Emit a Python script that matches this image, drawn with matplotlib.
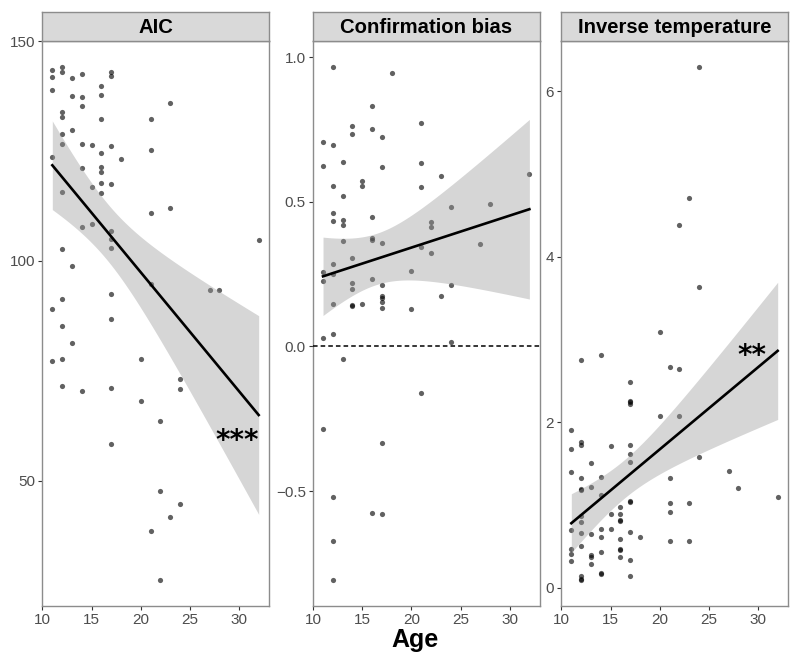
import numpy as np
import matplotlib
matplotlib.use("Agg")
import matplotlib.pyplot as plt

plt.rcParams['font.family'] = ['Liberation Sans', 'DejaVu Sans']

# AIC panel
aic_age = [11, 11, 11, 12, 12, 13, 14, 16, 17, 17,
           13, 14, 16, 23, 12, 12, 14, 16, 21, 13,
           12, 12, 14, 15, 16, 17, 21, 11, 18, 14,
           16, 16, 16, 17, 15, 12, 16, 21, 23, 14,
           15, 17, 17, 17, 32, 12, 13, 21, 27, 28,
           17, 12, 11, 17,
           12, 13, 11, 12, 20, 24, 24, 12, 14, 17,
           20, 22, 17, 22, 24, 23, 21, 22]
aic_val = [143.5, 141.8, 138.8, 144.2, 143.0, 141.7, 142.6, 139.9, 143.0, 142.0,
           137.6, 137.2, 137.7, 136.0, 133.9, 132.8, 135.2, 132.3, 132.2, 129.9,
           128.8, 126.7, 126.7, 126.3, 124.6, 126.1, 125.2, 123.6, 123.3, 121.1,
           121.4, 120.2, 117.8, 117.6, 116.9, 115.7, 115.5, 110.9, 112.0, 107.7,
           108.4, 106.8, 104.9, 102.9, 104.8, 102.7, 98.9, 94.8, 93.4, 93.3,
           92.4, 91.3, 89.0, 86.7,
           85.2, 81.2, 77.3, 77.7, 77.7, 73.1, 70.8, 71.6, 70.4, 71.1,
           68.0, 63.6, 58.4, 47.7, 44.6, 41.7, 38.6, 27.3]

# Confirmation bias panel
cb_age = [12, 18, 16, 21, 14, 14, 16, 17, 11, 12,
          13, 11, 17, 21, 23, 32, 12, 15, 15, 21,
          13, 16, 12, 12, 13, 13, 22, 22, 24, 28,
          13, 16, 16, 17, 27, 21, 22, 14, 12, 12,
          11, 11, 20, 16, 14, 14, 17, 24, 17, 17,
          17, 23, 12, 14, 14, 15, 17, 20,
          11, 12, 24, 13, 21, 11, 17, 12, 16, 17, 12, 12]
cb_val = [0.968, 0.947, 0.832, 0.774, 0.764, 0.736, 0.753, 0.724, 0.707, 0.698,
          0.638, 0.624, 0.621, 0.636, 0.590, 0.598, 0.554, 0.571, 0.556, 0.551,
          0.522, 0.448, 0.463, 0.434, 0.438, 0.422, 0.429, 0.415, 0.483, 0.494,
          0.366, 0.374, 0.370, 0.357, 0.356, 0.345, 0.325, 0.305, 0.285, 0.250,
          0.257, 0.226, 0.262, 0.234, 0.220, 0.198, 0.213, 0.211, 0.175, 0.167,
          0.155, 0.174, 0.147, 0.144, 0.139, 0.146, 0.132, 0.129,
          0.030, 0.043, 0.016, -0.043, -0.160, -0.286, -0.333, -0.522, -0.576, -0.580, -0.674, -0.809]

# Inverse temperature panel
it_age = [24, 23, 22, 24,
          20, 14, 12, 21, 22, 17, 17, 17, 17, 20,
          22, 11, 11, 12, 12, 15, 17, 17, 17, 13,
          24, 11, 12, 14, 21, 27, 12, 12, 13, 28,
          14, 32, 17, 17, 21, 23, 16, 21, 16, 15,
          12, 16, 16, 12, 11, 15, 14, 17, 12, 13,
          14, 18, 16, 21, 23, 12, 11, 16, 16, 14,
          11, 13, 13, 16, 17, 11, 13, 14, 14, 12,
          17, 12, 12]
it_val = [6.30, 4.71, 4.38, 3.64,
          3.09, 2.81, 2.75, 2.67, 2.65, 2.49, 2.26, 2.24, 2.22, 2.08,
          2.08, 1.91, 1.68, 1.76, 1.73, 1.71, 1.73, 1.62, 1.52, 1.51,
          1.58, 1.40, 1.33, 1.34, 1.33, 1.41, 1.20, 1.18, 1.22, 1.21,
          1.12, 1.10, 1.05, 1.04, 1.02, 1.02, 0.98, 0.92, 0.89, 0.89,
          0.87, 0.82, 0.81, 0.80, 0.70, 0.71, 0.71, 0.68, 0.66, 0.65,
          0.61, 0.61, 0.59, 0.56, 0.57, 0.51, 0.47, 0.47, 0.46, 0.43,
          0.41, 0.40, 0.37, 0.37, 0.34, 0.32, 0.29, 0.18, 0.17, 0.14,
          0.14, 0.10, 0.09]

titles = ["AIC", "Confirmation bias", "Inverse temperature"]
yticks = [[50, 100, 150], [-0.5, 0.0, 0.5, 1.0], [0, 2, 4, 6]]
yticklabels = [["50", "100", "150"], ["\u22120.5", "0.0", "0.5", "1.0"], ["0", "2", "4", "6"]]
stars = ["***", None, "**"]
star_pos = [(29.85, 57.3), None, (29.4, 2.71)]


def lm_band(x, y, xs, t=1.99):
    x = np.asarray(x, float)
    y = np.asarray(y, float)
    b, a = np.polyfit(x, y, 1)
    n = len(x)
    resid = y - (a + b * x)
    s = np.sqrt(np.sum(resid ** 2) / (n - 2))
    se = s * np.sqrt(1 / n + (xs - x.mean()) ** 2 / np.sum((x - x.mean()) ** 2))
    fit = a + b * xs
    return fit, fit - t * se, fit + t * se


W, H = 800, 665
fig = plt.figure(figsize=(8, 6.65), dpi=100)
lefts = [42, 312.7, 561]
pw = 227
top, bottom = 41, 606
strip_top = 12
border = "#8c8c8c"

data = [(aic_age, aic_val), (cb_age, cb_val), (it_age, it_val)]
for i, (x, y) in enumerate(data):
    ax = fig.add_axes([lefts[i] / W, (H - bottom) / H, pw / W, (bottom - top) / H])
    ax.scatter(x, y, s=14, color="black", alpha=0.62, linewidths=0, zorder=2)
    xs = np.linspace(min(x), max(x), 100)
    fit, lo, hi = lm_band(x, y, xs)
    ax.fill_between(xs, lo, hi, color="#999999", alpha=0.4, linewidth=0, zorder=3)
    ax.plot(xs, fit, color="black", lw=1.9, zorder=4)
    if i == 1:
        ax.axhline(0, color="black", lw=1.1, ls=(0, (3, 2)), zorder=4)
    if stars[i]:
        ax.text(star_pos[i][0], star_pos[i][1], stars[i], ha="center", va="baseline",
                fontsize=20, fontweight="bold", family="DejaVu Sans", zorder=5)
    rng = max(y) - min(y)
    ax.set_ylim(min(y) - 0.05 * rng, max(y) + 0.05 * rng)
    ax.set_xlim(9.95, 33.05)
    ax.set_xticks([10, 15, 20, 25, 30])
    ax.set_yticks(yticks[i])
    ax.set_yticklabels(yticklabels[i])
    ax.tick_params(labelsize=11, labelcolor="#4d4d4d", color="#333333", length=3, width=0.8, pad=2)
    for sp in ax.spines.values():
        sp.set_color(border)
        sp.set_linewidth(1.0)

    sax = fig.add_axes([lefts[i] / W, (H - top) / H, pw / W, (top - strip_top) / H])
    sax.set_facecolor("#d9d9d9")
    sax.set_xticks([])
    sax.set_yticks([])
    for sp in sax.spines.values():
        sp.set_color(border)
        sp.set_linewidth(1.0)
    sax.text(0.5, 0.45, titles[i], ha="center", va="center", fontsize=14.6,
             fontweight="bold", transform=sax.transAxes)

fig.text(415 / W, 1 - 640 / H, "Age", ha="center", va="center", fontsize=18, fontweight="bold")

fig.savefig("out.png", dpi=100)
